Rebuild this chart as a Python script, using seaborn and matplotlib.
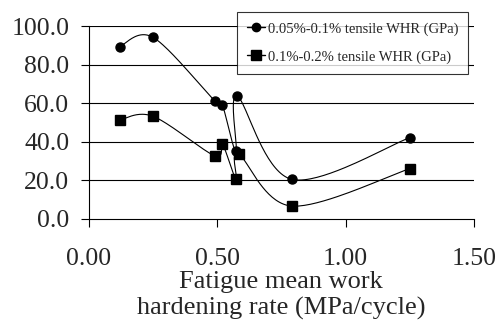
import numpy as np
import matplotlib
matplotlib.use("Agg")
import matplotlib.pyplot as plt
import seaborn as sns
from matplotlib.lines import Line2D

# Data (in drawing order)
x1 = [0.12, 0.25, 0.49, 0.52, 0.573, 0.578, 0.79, 1.25]
y1 = [89.4, 94.2, 61.3, 59.1, 35.2, 63.7, 20.5, 42.1]
x2 = [0.12, 0.25, 0.49, 0.52, 0.573, 0.583, 0.79, 1.25]
y2 = [51.3, 53.2, 32.7, 38.6, 20.8, 33.6, 6.6, 26.0]
labels = ["0.05%-0.1% tensile WHR (GPa)", "0.1%-0.2% tensile WHR (GPa)"]
xticks = [0.0, 0.5, 1.0, 1.5]
yticks = [0, 20, 40, 60, 80, 100]

sns.set_style("white")
plt.rcParams['font.family'] = ['Liberation Serif', 'DejaVu Serif']

fig = plt.figure(figsize=(5.02, 3.27), dpi=100)
ax = fig.add_axes([0.177, 0.331, 0.767, 0.589])
ax.set_xlim(0, 1.5)
ax.set_ylim(0, 100)

def smooth(xs, ys, sx=256.0, sy=1.925, n=40):
    P = np.column_stack([np.array(xs) * sx, np.array(ys) * sy])
    m = len(P)
    out = []
    for i in range(m - 1):
        p0 = P[max(i - 1, 0)]
        p1 = P[i]
        p2 = P[i + 1]
        p3 = P[min(i + 2, m - 1)]
        c1 = p1 + (p2 - p0) / 6.0
        c2 = p2 - (p3 - p1) / 6.0
        t = np.linspace(0, 1, n)[:, None]
        seg = (1 - t) ** 3 * p1 + 3 * (1 - t) ** 2 * t * c1 + 3 * (1 - t) * t ** 2 * c2 + t ** 3 * p2
        out.append(seg if i == 0 else seg[1:])
    C = np.vstack(out)
    return C[:, 0] / sx, C[:, 1] / sy

for xs, ys, mk, ms in [(x1, y1, 'o', 6.5), (x2, y2, 's', 7)]:
    cx, cy = smooth(xs, ys)
    sns.lineplot(x=cx, y=cy, sort=False, ax=ax, color='black', linewidth=0.8, estimator=None)
    ax.plot(xs, ys, linestyle='none', marker=mk, markersize=ms, color='black', zorder=3)

for yv in yticks[1:]:
    ax.axhline(yv, color='black', linewidth=0.8, zorder=0)

ax.set_xticks(xticks)
ax.set_xticklabels([f"{v:.2f}" for v in xticks])
ax.set_yticks(yticks)
ax.set_yticklabels([f"{v:.1f}" for v in yticks])
ax.tick_params(axis='both', labelsize=18.5, direction='out', length=6, width=0.8, color='black')
ax.tick_params(axis='x', pad=15, bottom=True)
ax.tick_params(axis='y', pad=8, left=True)
for s in ['top', 'right']:
    ax.spines[s].set_visible(False)
for s in ['left', 'bottom']:
    ax.spines[s].set_color('black')
    ax.spines[s].set_linewidth(0.8)
ax.set_xlabel("Fatigue mean work\nhardening rate (MPa/cycle)", fontsize=19, labelpad=1, linespacing=1.2)
ax.set_ylabel("")

handles = [Line2D([0], [0], color='black', marker='o', markersize=6, linewidth=1),
           Line2D([0], [0], color='black', marker='s', markersize=6.5, linewidth=1)]
leg = fig.legend(handles, labels, loc='upper left', bbox_to_anchor=(237 / 502, 1 - 12 / 327),
                 fontsize=10.5, frameon=True, fancybox=False, edgecolor='black',
                 handlelength=1.2, handletextpad=0.2, labelspacing=1.0, borderpad=0.7,
                 borderaxespad=0)
leg.get_frame().set_linewidth(0.8)
leg.set_zorder(5)

fig.savefig("out.png", dpi=100)
